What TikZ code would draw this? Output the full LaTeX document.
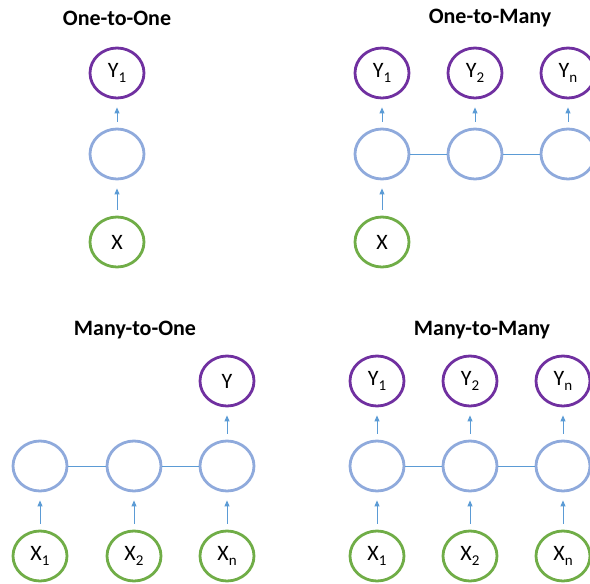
\documentclass[tikz,border=0pt]{standalone}
\usepackage{fontspec}
\setmainfont{Carlito}
\usetikzlibrary{arrows.meta,shapes.geometric}
\definecolor{outc}{HTML}{7030A0}
\definecolor{inc}{HTML}{70AD47}
\definecolor{hidc}{HTML}{8FAADC}
\definecolor{arrc}{HTML}{5B9BD5}
\newcommand{\sbx}[1]{\raisebox{-0.4ex}{\fontsize{15}{15}\selectfont #1}}
\tikzset{
  cell/.style={ellipse,draw,line width=2.8pt,minimum width=54pt,minimum height=50pt,inner sep=0pt,font=\fontsize{22}{22}\selectfont},
  outn/.style={cell,draw=outc},
  inn/.style={cell,draw=inc},
  hidn/.style={cell,draw=hidc},
  ttl/.style={font=\fontsize{22}{22}\selectfont\bfseries},
  up/.style={draw=arrc,line width=1pt,-{Triangle[width=5pt,length=6pt]},shorten <=6pt,shorten >=8pt},
  link/.style={draw=arrc,line width=1pt}
}
\begin{document}
\begin{tikzpicture}[x=1pt,y=-1pt]
\clip (0,0) rectangle (590,584);
\useasboundingbox (0,0) rectangle (590,584);
% One-to-One
\node[ttl] (t1) at (117,18) {One-to-One};
\node[outn] (a1) at (117,73) {Y\sbx{1}};
\node[hidn] (ah) at (117,154) {};
\node[inn] (ax) at (117,242) {X};
\draw[up] (ah) -- (a1);
\draw[up] (ax) -- (ah);
% One-to-Many
\node[ttl] (t2) at (490,18) {One-to-Many};
\node[outn] (b1) at (382,73) {Y\sbx{1}};
\node[outn] (b2) at (475,73) {Y\sbx{2}};
\node[outn] (b3) at (568,73) {Y\sbx{n}};
\node[hidn] (bh1) at (382,154) {};
\node[hidn] (bh2) at (475,154) {};
\node[hidn] (bh3) at (568,154) {};
\node[inn] (bx) at (382,242) {X};
\draw[link] (bh1) -- (bh2);
\draw[link] (bh2) -- (bh3);
\draw[up] (bh1) -- (b1);
\draw[up] (bh2) -- (b2);
\draw[up] (bh3) -- (b3);
\draw[up] (bx) -- (bh1);
% Many-to-One
\node[ttl] (t3) at (135,330) {Many-to-One};
\node[outn] (c3) at (227,381) {Y};
\node[hidn] (ch1) at (40,466) {};
\node[hidn] (ch2) at (134,466) {};
\node[hidn] (ch3) at (227,466) {};
\node[inn] (cx1) at (40,556) {X\sbx{1}};
\node[inn] (cx2) at (134,556) {X\sbx{2}};
\node[inn] (cx3) at (227,556) {X\sbx{n}};
\draw[link] (ch1) -- (ch2);
\draw[link] (ch2) -- (ch3);
\draw[up] (ch3) -- (c3);
\draw[up] (cx1) -- (ch1);
\draw[up] (cx2) -- (ch2);
\draw[up] (cx3) -- (ch3);
% Many-to-Many
\node[ttl] (t4) at (482,330) {Many-to-Many};
\node[outn] (d1) at (377,381) {Y\sbx{1}};
\node[outn] (d2) at (470,381) {Y\sbx{2}};
\node[outn] (d3) at (563,381) {Y\sbx{n}};
\node[hidn] (dh1) at (377,466) {};
\node[hidn] (dh2) at (470,466) {};
\node[hidn] (dh3) at (563,466) {};
\node[inn] (dx1) at (377,556) {X\sbx{1}};
\node[inn] (dx2) at (470,556) {X\sbx{2}};
\node[inn] (dx3) at (563,556) {X\sbx{n}};
\draw[link] (dh1) -- (dh2);
\draw[link] (dh2) -- (dh3);
\draw[up] (dh1) -- (d1);
\draw[up] (dh2) -- (d2);
\draw[up] (dh3) -- (d3);
\draw[up] (dx1) -- (dh1);
\draw[up] (dx2) -- (dh2);
\draw[up] (dx3) -- (dh3);
\end{tikzpicture}
\end{document}
